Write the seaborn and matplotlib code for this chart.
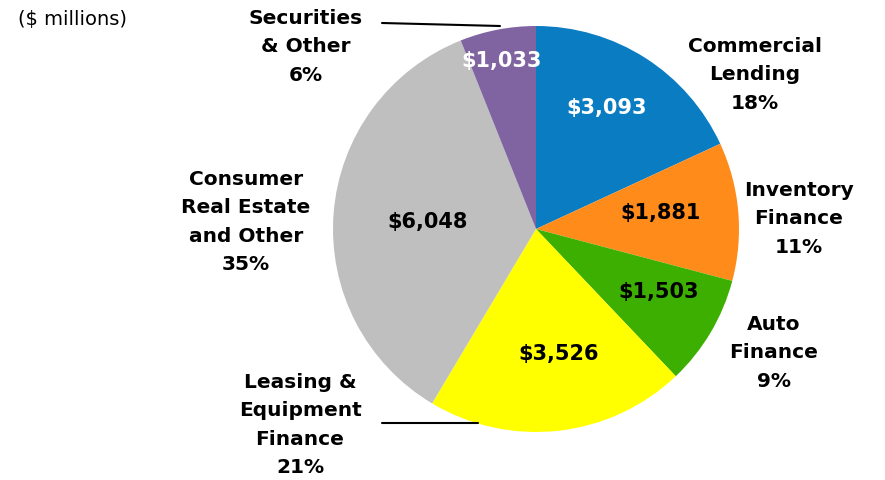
import matplotlib
matplotlib.use("Agg")
import matplotlib.pyplot as plt
import seaborn as sns

sns.set_theme(style="white")
plt.rcParams['font.family'] = ['DejaVu Sans']

categories = ["Commercial\nLending", "Inventory\nFinance", "Auto\nFinance",
              "Leasing &\nEquipment\nFinance", "Consumer\nReal Estate\nand Other",
              "Securities\n& Other"]
values = [3093, 1881, 1503, 3526, 6048, 1033]
percents = ["18%", "11%", "9%", "21%", "35%", "6%"]
value_labels = ["$3,093", "$1,881", "$1,503", "$3,526", "$6,048", "$1,033"]
colors = ["#0A7DC2", "#FF8C1A", "#3CAF00", "#FFFF00", "#BFBFBF", "#8064A2"]
value_colors = ["white", "black", "black", "black", "black", "white"]

W, H = 885, 481
fig = plt.figure(figsize=(W / 100, H / 100), dpi=100)
ax = fig.add_axes([0, 0, 1, 1])

def Y(y):
    return H - y

ax.pie(values, colors=colors, startangle=90, counterclock=False,
       center=(536, Y(230)), radius=203, frame=True,
       wedgeprops=dict(linewidth=0))
ax.set_xlim(0, W)
ax.set_ylim(0, H)
ax.set_aspect("equal")
ax.axis("off")

fs = 15
# inner value labels
val_pos = [(607, 108), (661, 213), (659, 292), (559, 354), (428, 222), (502, 61)]
for (x, y), t, c in zip(val_pos, value_labels, value_colors):
    ax.text(x, Y(y), t, ha="center", va="center", fontsize=fs,
            fontweight="bold", color=c)

# outer category labels
cat_pos = [(755, 75), (799, 219), (774, 353), (300, 425), (246, 222), (306, 47)]
for (x, y), cat, p in zip(cat_pos, categories, percents):
    ax.text(x, Y(y), cat + "\n" + p, ha="center", va="center", fontsize=14.5,
            fontweight="bold", color="black", linespacing=1.62)

# leader lines
ax.plot([382, 500], [Y(24), Y(27)], color="black", lw=1.5)
ax.plot([382, 478], [Y(424), Y(424)], color="black", lw=1.5)

ax.text(18, Y(20), "($ millions)", ha="left", va="center", fontsize=14,
        color="black")

fig.savefig("out.png", dpi=100)
